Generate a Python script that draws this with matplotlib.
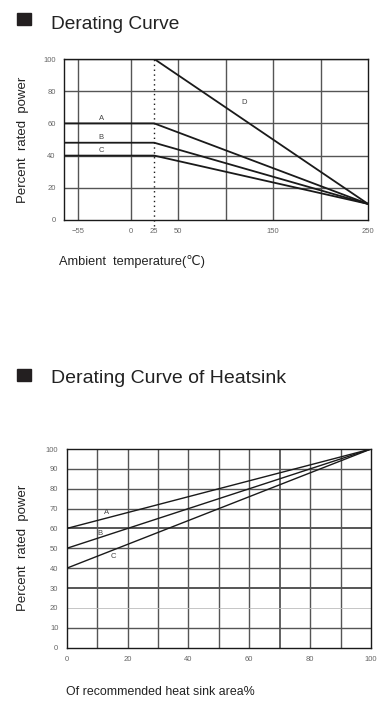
import numpy as np
import matplotlib.pyplot as plt
from matplotlib.patches import Rectangle

plt.rcParams['font.family'] = ['Liberation Sans', 'DejaVu Sans']

# %% data - derating curve
temp_knee = 25
temp_end = 250
temp_start = -70
curve_names = ['A', 'B', 'C']
curve_flat = [60, 48, 40]
curve_end = [10, 10, 10]
d_start = 100
d_end = 10
temp_ticks = [-55, 0, 25, 50, 150, 250]
temp_grid = [-55, 0, 50, 100, 150, 200]
power_ticks = [0, 20, 40, 60, 80, 100]

# %% data - heatsink
area = [0, 100]
hs_names = ['A', 'B', 'C']
hs_start = [60, 50, 40]
hs_end = [100, 100, 100]
area_ticks = [0, 20, 40, 60, 80, 100]
hs_power_ticks = list(range(0, 101, 10))

W, H = 385, 708
fig = plt.figure(figsize=(W / 100, H / 100), dpi=100)

def px(x0, y0, x1, y1):
    return [x0 / W, 1 - y1 / H, (x1 - x0) / W, (y1 - y0) / H]

grid_col = '#555555'
line_col = '#1a1a1a'
tick_col = '#666666'

# %% titles
for ytop, ty, fs, title in [(13, 22.5, 13.8, 'Derating Curve'),
                            (369, 376.5, 14, 'Derating Curve of Heatsink')]:
    fig.patches.append(Rectangle((17 / W, 1 - (ytop + 12) / H), 14 / W, 12 / H,
                                 transform=fig.transFigure, color='#231f20'))
    fig.text(51 / W, 1 - ty / H, title, fontsize=fs, va='center_baseline',
             ha='left', color='#222222')

# %% top chart
ax = fig.add_axes(px(64, 59, 368, 220))
ax.set_xlim(temp_start, temp_end)
ax.set_ylim(0, 100)
for x in temp_grid:
    ax.axvline(x, color=grid_col, lw=1.0, zorder=1)
for y in power_ticks[1:]:
    ax.axhline(y, color=grid_col, lw=1.0, zorder=1)
ax.plot([temp_knee, temp_knee], [-4, 100], ls=(0, (1, 2.5)), color=line_col,
        lw=1.0, clip_on=False, zorder=2)
for name, f, e in zip(curve_names, curve_flat, curve_end):
    ax.plot([temp_start, temp_knee, temp_end], [f, f, e], color=line_col, lw=1.3, zorder=3)
ax.plot([temp_knee, temp_end], [d_start, d_end], color=line_col, lw=1.3, zorder=3)
label_y = [63, 51.5, 43]
for name, y in zip(curve_names, label_y):
    ax.text(-31, y, name, fontsize=5.5, color='#444444', ha='center', va='center')
ax.text(120, 73, 'D', fontsize=5.5, color='#444444', ha='center', va='center')
ax.set_xticks(temp_ticks)
ax.set_xticklabels([str(t).replace('-', '\u2212') for t in temp_ticks])
ax.set_yticks(power_ticks)
ax.tick_params(length=0, labelsize=5.5, labelcolor=tick_col, pad=6)
for s in ax.spines.values():
    s.set_color(line_col)
    s.set_linewidth(1.0)
ax.set_ylabel('Percent  rated  power', fontsize=9.5, color='#222222', labelpad=10)
fig.text(59 / W, 1 - 262 / H, 'Ambient  temperature(\u2103)', fontsize=9.2,
         color='#222222', va='center', ha='left')

# %% bottom chart
ax2 = fig.add_axes(px(66.7, 449, 371, 647.7))
ax2.set_xlim(0, 100)
ax2.set_ylim(0, 100)
for x in range(10, 100, 10):
    ax2.axvline(x, color=grid_col, lw=1.3 if x == 70 else 1.0, zorder=1)
for y in hs_power_ticks[1:-1]:
    if y == 20:
        ax2.axhline(y, color='#bbbbbb', lw=0.6, zorder=1)
    else:
        ax2.axhline(y, color=grid_col, lw=1.4 if y in (30, 60) else 1.0, zorder=1)
for name, s, e in zip(hs_names, hs_start, hs_end):
    ax2.plot(area, [s, e], color=line_col, lw=1.0, zorder=3)
hs_lab = [(13, 68), (11, 57.5), (15.5, 46)]
for name, (x, y) in zip(hs_names, hs_lab):
    ax2.text(x, y, name, fontsize=5.5, color='#444444', ha='center', va='center')
ax2.set_xticks(area_ticks)
ax2.set_yticks(hs_power_ticks)
ax2.tick_params(length=0, labelsize=5.5, labelcolor=tick_col, pad=6)
for s in ax2.spines.values():
    s.set_color(line_col)
    s.set_linewidth(1.0)
ax2.set_ylabel('Percent  rated  power', fontsize=9.5, color='#222222', labelpad=12)
fig.text(66 / W, 1 - 692 / H, 'Of recommended heat sink area%', fontsize=8.9,
         color='#222222', va='center', ha='left')

fig.savefig('out.png', dpi=100)
